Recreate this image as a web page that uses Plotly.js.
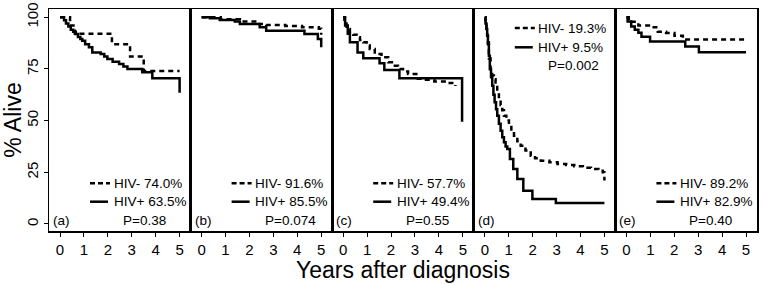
<!DOCTYPE html>
<html>
<head>
<meta charset="utf-8">
<script src="https://cdn.plot.ly/plotly-3.0.1.min.js"></script>
<style>html,body{margin:0;padding:0;background:#fff;}#chart{width:764px;height:284px;}</style>
</head>
<body>
<div id="chart"></div>
<script>
// ---- Data ----
const panelLabels = ['(a)', '(b)', '(c)', '(d)', '(e)'];
const legendNeg = ['HIV- 74.0%', 'HIV- 91.6%', 'HIV- 57.7%', 'HIV- 19.3%', 'HIV- 89.2%'];
const legendPos = ['HIV+ 63.5%', 'HIV+ 85.5%', 'HIV+ 49.4%', 'HIV+ 9.5%', 'HIV+ 82.9%'];
const pValues = ['P=0.38', 'P=0.074', 'P=0.55', 'P=0.002', 'P=0.40'];
const legendAtTop = [false, false, false, true, false];
const xTicks = [0, 1, 2, 3, 4, 5];
const yTicks = [0, 25, 50, 75, 100];

// Panel (a)
const tA_neg = [0, 0.42, 0.62, 2.17, 2.93, 3.5, 5.0];
const sA_neg = [100, 96, 92, 87, 81, 74, 74];
const tA_pos = [0, 0.17, 0.25, 0.35, 0.45, 0.55, 0.66, 0.75, 0.85, 0.93, 1.05, 1.21, 1.35, 1.7, 1.85, 1.98, 2.2, 2.47, 2.65, 2.82, 3.44, 3.86, 5.0];
const sA_pos = [100, 98.5, 97, 95.5, 94, 93, 91.9, 90.5, 89.5, 88.7, 87, 85.5, 83, 82.2, 81, 79.8, 78.5, 77.4, 76.2, 75, 73.4, 70.5, 63.5];

// Panel (b)
const tB_neg = [0, 0.8, 1.6, 2.4, 2.7, 3.5, 4.2, 4.9, 5.0];
const sB_neg = [100, 99, 98, 96.8, 96.2, 95.8, 95.2, 94.5, 91.6];
const tB_pos = [0, 0.35, 0.76, 1.39, 1.6, 2.43, 2.7, 4.3, 4.86, 5.0];
const sB_pos = [100, 99.5, 98.7, 97.9, 96.8, 95.2, 93.5, 91.9, 89.5, 85.5];

// Panel (c)
const tC_neg = [0, 0.05, 0.14, 0.28, 0.42, 0.56, 0.7, 0.84, 0.98, 1.11, 1.32, 1.6, 1.88, 2.1, 2.29, 2.5, 2.71, 3.12, 3.46, 3.81, 4.3, 4.69];
const sC_neg = [100, 97, 94.3, 92.7, 91.5, 90.3, 89, 87.9, 86.3, 84.7, 82.2, 80.6, 78.2, 76.5, 75, 73.8, 72.6, 70.2, 69.8, 68.9, 68.2, 66.8];
const tC_pos = [0, 0.08, 0.19, 0.28, 0.6, 0.84, 1.52, 1.72, 2.35, 4.97];
const sC_pos = [100, 96, 92, 87.9, 83, 80.2, 77.7, 74.5, 70.5, 49.4];

// Panel (d)
const tD_neg = [0, 0.03, 0.07, 0.1, 0.13, 0.17, 0.24, 0.31, 0.38, 0.45, 0.52, 0.59, 0.66, 0.73, 0.8, 0.9, 1.01, 1.11, 1.22, 1.36, 1.5, 1.7, 1.92, 2.1, 2.34, 2.7, 3.04, 3.4, 3.74, 4.1, 4.44, 4.75, 4.93, 5.0];
const sD_neg = [100, 97, 94, 91, 87, 80, 74, 71.8, 70, 68.5, 64, 60.5, 57.5, 55, 52.4, 50, 47.6, 45, 42.7, 40, 37.9, 35.5, 33, 31.8, 30.6, 29.8, 29, 28.5, 27.9, 27.2, 26.6, 25.8, 25, 21];
const tD_pos = [0, 0.03, 0.07, 0.1, 0.13, 0.17, 0.21, 0.26, 0.31, 0.36, 0.41, 0.47, 0.52, 0.59, 0.66, 0.73, 0.8, 0.87, 0.94, 1.05, 1.19, 1.36, 1.61, 1.99, 2.97, 5.0];
const sD_pos = [100, 97, 94.3, 91, 87.9, 81.4, 75, 71, 66.9, 62.5, 58.9, 55.5, 52.4, 48.5, 45.1, 42, 39.5, 37.5, 36.3, 31.4, 26.6, 21.8, 16.1, 12.1, 10.2, 10.2];

// Panel (e)
const tE_neg = [0, 0.1, 0.5, 1.03, 1.31, 1.66, 2.01, 2.36, 5.0];
const sE_neg = [100, 97.8, 96, 95.2, 93, 92.4, 91.1, 89.2, 89.2];
const tE_pos = [0, 0.05, 0.2, 0.35, 0.5, 0.63, 0.99, 2.46, 3.03, 5.0];
const sE_pos = [100, 97.9, 95.5, 94, 92.5, 90.6, 88.3, 85.8, 83.1, 83.1];

const negTimes = [tA_neg, tB_neg, tC_neg, tD_neg, tE_neg];
const negSurv  = [sA_neg, sB_neg, sC_neg, sD_neg, sE_neg];
const posTimes = [tA_pos, tB_pos, tC_pos, tD_pos, tE_pos];
const posSurv  = [sA_pos, sB_pos, sC_pos, sD_pos, sE_pos];

// ---- Styling / layout ----
const FONT = 'Liberation Sans, Arial, Helvetica, sans-serif';
const DASH = '5px,4px';
const LW = 2.5;
const PANEL_W = 141.6;   // px width of each panel
const PANEL_H = 222;     // px height of plot area
const XR = [-0.46, 5.46];
const YR = [-3.4, 104];

const traces = [];
const layout = {
  width: 764, height: 284,
  margin: {l: 49, r: 7, t: 9, b: 53, pad: 0},
  paper_bgcolor: '#fff', plot_bgcolor: '#fff',
  showlegend: false,
  font: {family: FONT, color: '#000', size: 14},
  annotations: [], shapes: []
};

for (let i = 0; i < 5; i++) {
  const n = i + 1;
  const xa = n === 1 ? 'x' : 'x' + n;
  const ya = n === 1 ? 'y' : 'y' + n;
  const xkey = n === 1 ? 'xaxis' : 'xaxis' + n;
  const ykey = n === 1 ? 'yaxis' : 'yaxis' + n;

  traces.push({x: negTimes[i], y: negSurv[i], xaxis: xa, yaxis: ya, mode: 'lines',
    line: {shape: 'hv', color: '#000', width: LW, dash: DASH}, hoverinfo: 'skip'});
  traces.push({x: posTimes[i], y: posSurv[i], xaxis: xa, yaxis: ya, mode: 'lines',
    line: {shape: 'hv', color: '#000', width: LW}, hoverinfo: 'skip'});

  layout[xkey] = {
    domain: [i / 5, (i + 1) / 5], range: XR, anchor: ya,
    showline: true, mirror: true, linecolor: '#000', linewidth: 1.5,
    ticks: 'outside', ticklen: 4, tickwidth: 1, tickcolor: '#000',
    tickvals: xTicks, ticktext: xTicks.map(String),
    tickfont: {family: FONT, size: 15, color: '#000'},
    showgrid: false, zeroline: false, fixedrange: true
  };
  layout[ykey] = {
    domain: [0, 1], range: YR, anchor: xa,
    showline: true, mirror: true, linecolor: '#000', linewidth: 1.5,
    showgrid: false, zeroline: false, fixedrange: true,
    ticks: n === 1 ? 'outside' : '', ticklen: 4, tickwidth: 1, tickcolor: '#000',
    showticklabels: n === 1,
    tickvals: yTicks, ticktext: yTicks.map(String), tickangle: -90,
    tickfont: {family: FONT, size: 15, color: '#000'}
  };

  // legend rows (panel-relative pixel positions → domain fractions)
  const rowsY = legendAtTop[i] ? [19, 38.3, 56.7] : [174.3, 192.7, 211];
  const fy = v => 1 - v / PANEL_H;
  const fx = v => v / PANEL_W;
  const xr = xa + ' domain', yr = ya + ' domain';

  layout.shapes.push({type: 'line', xref: xr, yref: yr, x0: fx(41), x1: fx(61), y0: fy(rowsY[0]), y1: fy(rowsY[0]),
    line: {color: '#000', width: LW, dash: '5px,3px'}});
  layout.shapes.push({type: 'line', xref: xr, yref: yr, x0: fx(41), x1: fx(59), y0: fy(rowsY[1]), y1: fy(rowsY[1]),
    line: {color: '#000', width: LW}});

  const txt = (text, xpx, ypx) => ({text: text, xref: xr, yref: yr, x: fx(xpx), y: fy(ypx),
    xanchor: 'left', yanchor: 'middle', showarrow: false,
    font: {family: FONT, size: 13.5, color: '#000'}});
  layout.annotations.push(txt(legendNeg[i], 62.5, rowsY[0]));
  layout.annotations.push(txt(legendPos[i], 62.5, rowsY[1]));
  layout.annotations.push(txt(pValues[i], 72, rowsY[2]));
  layout.annotations.push(txt(panelLabels[i], 2, 211));
}

layout.xaxis3.title = {text: 'Years after diagnosis', font: {family: FONT, size: 23, color: '#000'}, standoff: 3};
layout.yaxis.title = {text: '% Alive', font: {family: FONT, size: 23, color: '#000'}, standoff: 2};

Plotly.newPlot('chart', traces, layout, {staticPlot: true, displayModeBar: false});
</script>
</body>
</html>
